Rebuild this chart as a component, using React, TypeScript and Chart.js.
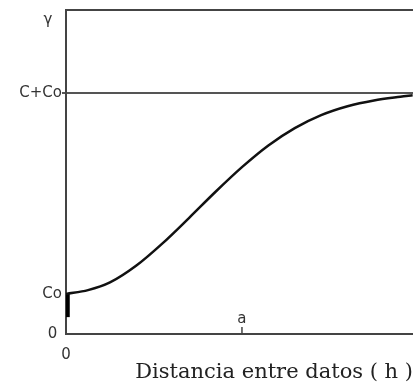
import React, { useEffect, useRef } from "react";
import { Chart, registerables } from "chart.js";

Chart.register(...registerables);

// Semivariogram curve: lag distance h against semivariance γ
const LAG_H = [0, 0.125, 0.25, 0.4, 0.55, 0.7, 0.85, 1.0, 1.15, 1.3, 1.45, 1.6, 1.75, 1.9, 1.97];
const GAMMA_H = [0.166, 0.182, 0.214, 0.284, 0.377, 0.482, 0.59, 0.692, 0.782, 0.854, 0.908, 0.945, 0.969, 0.984, 0.99];

// Nugget jump at the origin
const NUGGET_X = [0.01, 0.01];
const NUGGET_Y = [0.07, 0.166];

// Axis ticks
const Y_TICK_VALUES = [0, 0.166, 1, 1.3];
const Y_TICK_LABELS = ["0 ", "Co", "C+Co", "γ  "];
const X_TICK_VALUES = [0];
const X_TICK_LABELS = ["0"];
const RANGE_A = 1; // range a
const RANGE_LABEL = "a";
const SILL = 1;

const X_MAX = 1.972;
const Y_MAX = 1.344;
const X_TITLE = "Distancia entre datos ( h )";

const LABEL_FONT = { family: "'DejaVu Sans', sans-serif", size: 15 };
const AXIS_COLOR = "#444";

const rangeMarker = {
  id: "rangeMarker",
  afterDatasetsDraw(chart: any) {
    const { ctx, scales } = chart;
    const xs = scales.x;
    const px = xs.getPixelForValue(RANGE_A);
    const bottom = chart.chartArea.bottom;
    ctx.save();
    ctx.strokeStyle = AXIS_COLOR;
    ctx.lineWidth = 1.5;
    ctx.beginPath();
    ctx.moveTo(px, bottom - 7);
    ctx.lineTo(px, bottom);
    ctx.stroke();
    ctx.fillStyle = "#333";
    ctx.font = `${LABEL_FONT.size}px ${LABEL_FONT.family}`;
    ctx.textAlign = "center";
    ctx.textBaseline = "middle";
    ctx.fillText(RANGE_LABEL, px, bottom - 15);
    ctx.restore();
  },
};

export default function App() {
  const ref = useRef<HTMLCanvasElement | null>(null);

  useEffect(() => {
    if (!ref.current) return;
    const chart = new Chart(ref.current, {
      type: "line",
      data: {
        datasets: [
          {
            data: LAG_H.map((x, i) => ({ x, y: GAMMA_H[i] })),
            borderColor: "#111",
            borderWidth: 2.5,
            pointRadius: 0,
            cubicInterpolationMode: "monotone",
            fill: false,
          },
          {
            data: NUGGET_X.map((x, i) => ({ x, y: NUGGET_Y[i] })),
            borderColor: "#000",
            borderWidth: 4,
            pointRadius: 0,
            fill: false,
          },
        ],
      },
      options: {
        responsive: false,
        animation: false,
        layout: { padding: { top: 10, left: 0, right: 0, bottom: 0 } },
        plugins: {
          legend: { display: false },
          tooltip: { enabled: false },
        },
        scales: {
          x: {
            type: "linear",
            position: "bottom",
            min: 0,
            max: X_MAX,
            afterBuildTicks: (s: any) => {
              s.ticks = X_TICK_VALUES.map((v) => ({ value: v }));
            },
            afterFit: (s: any) => {
              s.height = 57;
            },
            grid: { display: false, drawTicks: false, tickLength: 0 },
            border: { display: true, color: AXIS_COLOR, width: 2 },
            ticks: {
              padding: 12,
              color: "#333",
              font: LABEL_FONT,
              maxRotation: 0,
              callback: (v: any) => {
                const i = X_TICK_VALUES.indexOf(Number(v));
                return i >= 0 ? X_TICK_LABELS[i] : "";
              },
            },
            title: {
              display: true,
              text: X_TITLE,
              align: "end",
              color: "#222",
              font: { family: "'DejaVu Serif', serif", size: 21, lineHeight: 1 },
              padding: { top: 0, bottom: 8 },
            },
          },
          xTop: {
            type: "linear",
            position: "top",
            min: 0,
            max: 1,
            afterFit: (s: any) => {
              s.height = 0;
            },
            grid: { display: false, drawTicks: false },
            border: { display: true, color: AXIS_COLOR, width: 2 },
            ticks: { display: false },
          },
          y: {
            type: "linear",
            min: 0,
            max: Y_MAX,
            afterBuildTicks: (s: any) => {
              s.ticks = Y_TICK_VALUES.map((v) => ({ value: v }));
            },
            afterFit: (s: any) => {
              s.width = 66;
            },
            grid: {
              drawOnChartArea: true,
              drawTicks: true,
              tickLength: 4,
              lineWidth: 2,
              color: (c: any) => (c.tick && c.tick.value === SILL ? "#555" : "rgba(0,0,0,0)"),
            },
            border: { display: true, color: AXIS_COLOR, width: 2 },
            ticks: {
              padding: 0,
              color: "#333",
              font: LABEL_FONT,
              callback: (v: any) => {
                const i = Y_TICK_VALUES.indexOf(Number(v));
                return i >= 0 ? Y_TICK_LABELS[i] : "";
              },
            },
          },
        },
      } as any,
      plugins: [rangeMarker],
    });
    return () => chart.destroy();
  }, []);

  return (
    <div style={{ position: "fixed", left: 0, top: 0, width: 413, height: 391, background: "#fff" }}>
      <canvas ref={ref} width={413} height={391} style={{ width: 413, height: 391, display: "block" }} />
    </div>
  );
}
